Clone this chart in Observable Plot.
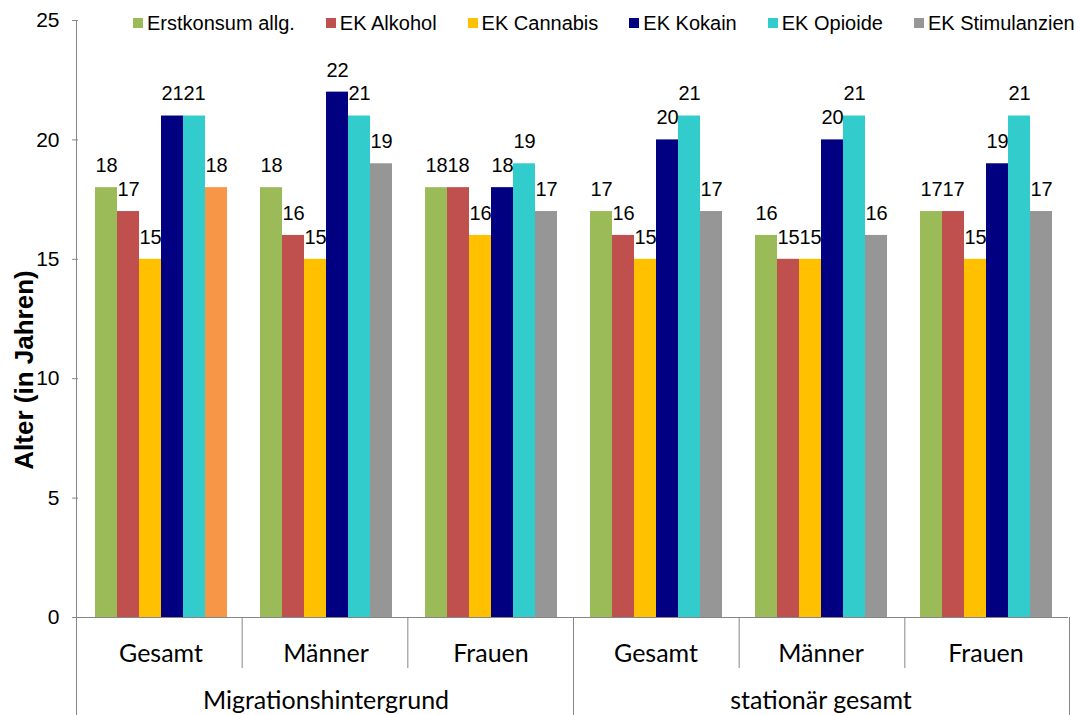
<!DOCTYPE html>
<html>
<head>
<meta charset="utf-8">
<script src="https://cdn.jsdelivr.net/npm/d3@7"></script>
<script src="https://cdn.jsdelivr.net/npm/@observablehq/plot@0.6"></script>
<style>
  body { margin: 0; background: #fff; }
  #wrap { position: relative; width: 1078px; height: 715px; font-family: "Liberation Sans", Arial, sans-serif; overflow: hidden; }
  #legend { position: absolute; left: 133px; top: 11px; display: flex; gap: 31px; font-size: 20px; line-height: 24px; color: #000; white-space: nowrap; z-index: 2; }
  .item { display: flex; align-items: center; gap: 4px; }
  .sw { width: 10px; height: 10px; display: inline-block; }
  #chart { position: absolute; left: 0; top: 0; }
</style>
</head>
<body>
<div id="wrap"><div id="legend"></div><div id="chart"></div></div>
<script>
// ---- data ----
const groups = ["Migrationshintergrund", "stationär gesamt"];
const subgroups = ["Gesamt", "Männer", "Frauen"];
const series = ["Erstkonsum allg.", "EK Alkohol", "EK Cannabis", "EK Kokain", "EK Opioide", "EK Stimulanzien"];
const colors = ["#9BBB59", "#C0504D", "#FFC000", "#000080", "#33CCCC", "#969696"];
const highlightColor = "#F79646";
const migGesamt  = [18, 17, 15, 21, 21, 18];
const migMaenner = [18, 16, 15, 22, 21, 19];
const migFrauen  = [18, 18, 16, 18, 19, 17];
const statGesamt  = [17, 16, 15, 20, 21, 17];
const statMaenner = [16, 15, 15, 20, 21, 16];
const statFrauen  = [17, 17, 15, 19, 21, 17];
const yTicks = [0, 5, 10, 15, 20, 25];
const yTitle = "Alter (in Jahren)";

// ---- table ----
const panels = [
  {group: groups[0], sub: subgroups[0], values: migGesamt},
  {group: groups[0], sub: subgroups[1], values: migMaenner},
  {group: groups[0], sub: subgroups[2], values: migFrauen},
  {group: groups[1], sub: subgroups[0], values: statGesamt},
  {group: groups[1], sub: subgroups[1], values: statMaenner},
  {group: groups[1], sub: subgroups[2], values: statFrauen}
].map(p => ({...p, key: p.group + "|" + p.sub}));
const keys = panels.map(p => p.key);
const rows = panels.flatMap(p => series.map((s, i) => ({key: p.key, series: s, value: p.values[i]})));
const fillOf = d => (d.key === keys[0] && d.series === series[5]) ? highlightColor : colors[series.indexOf(d.series)];

// ---- legend ----
const legend = document.getElementById("legend");
series.forEach((s, i) => {
  const it = document.createElement("div");
  it.className = "item";
  const sw = document.createElement("span");
  sw.className = "sw";
  sw.style.background = colors[i];
  const t = document.createElement("span");
  t.textContent = s;
  it.appendChild(sw); it.appendChild(t);
  legend.appendChild(it);
});

const catFont = "Lato, 'Open Sans', sans-serif";

const chart = Plot.plot({
  width: 1078, height: 715,
  marginLeft: 76, marginRight: 8, marginTop: 20, marginBottom: 98,
  style: {fontFamily: "'Liberation Sans', Arial, sans-serif", background: "transparent", overflow: "visible", color: "#000"},
  fx: {domain: keys, padding: 0, axis: null},
  x: {domain: series, paddingInner: 0, paddingOuter: 0.735, axis: null},
  y: {domain: [0, 25], axis: null},
  color: {type: "identity"},
  marks: [
    Plot.barY(rows, {fx: "key", x: "series", y: "value", fill: fillOf}),
    Plot.ruleY([0], {stroke: "#868686", strokeWidth: 1}),
    Plot.axisY({ticks: yTicks, tickSize: 6, tickPadding: 13, fontSize: 21, stroke: "#868686", label: null}),
    Plot.text(rows, {fx: "key", x: "series", y: "value", text: d => String(d.value), dy: -22, lineAnchor: "middle", fontSize: 20, fill: "#000"}),
    Plot.text(panels, {fx: "key", frameAnchor: "bottom", text: "sub", dy: 36, lineAnchor: "middle", fontSize: 25, fontFamily: catFont, fill: "#000"}),
    Plot.text(panels.filter(p => p.sub === subgroups[1]), {fx: "key", frameAnchor: "bottom", text: "group", dy: 83, lineAnchor: "middle", fontSize: 25, fontFamily: catFont, fill: "#000"}),
    Plot.text([yTitle], {fx: () => keys[0], frameAnchor: "left", text: d => d, rotate: -90, dx: -54, dy: 51, textAnchor: "middle", lineAnchor: "middle", fontSize: 26, fontWeight: "bold", fill: "#000"})
  ]
});
document.getElementById("chart").appendChild(chart);

// ---- axis line and category dividers, from the chart's own scales ----
const fxs = chart.scale("fx");
const ys = chart.scale("y");
const band = d3.scaleBand()
  .domain(fxs.domain)
  .range(fxs.range)
  .paddingInner(fxs.paddingInner ?? fxs.padding ?? 0)
  .paddingOuter(fxs.paddingOuter ?? fxs.padding ?? 0)
  .align(fxs.align ?? 0.5);
const yLin = d3.scaleLinear().domain(ys.domain).range(ys.range);
const y0 = yLin(0), yTop = yLin(25), H = 715;
const svg = d3.select(chart.tagName.toLowerCase() === "svg" ? chart : chart.querySelector("svg"));
const g = svg.append("g").attr("stroke", "#868686").attr("stroke-width", 1);
// y axis line
g.append("line").attr("x1", band(keys[0]) + 0.5).attr("x2", band(keys[0]) + 0.5).attr("y1", yTop).attr("y2", H);
panels.forEach((p, i) => {
  if (i === 0) return;
  const x = band(p.key) + 0.5;
  const outer = p.sub === subgroups[0];
  g.append("line").attr("x1", x).attr("x2", x).attr("y1", y0).attr("y2", outer ? H : y0 + 51);
});
const last = keys[keys.length - 1];
const xr = band(last) + band.bandwidth() - 0.5;
g.append("line").attr("x1", xr).attr("x2", xr).attr("y1", y0).attr("y2", H);
</script>
</body>
</html>
